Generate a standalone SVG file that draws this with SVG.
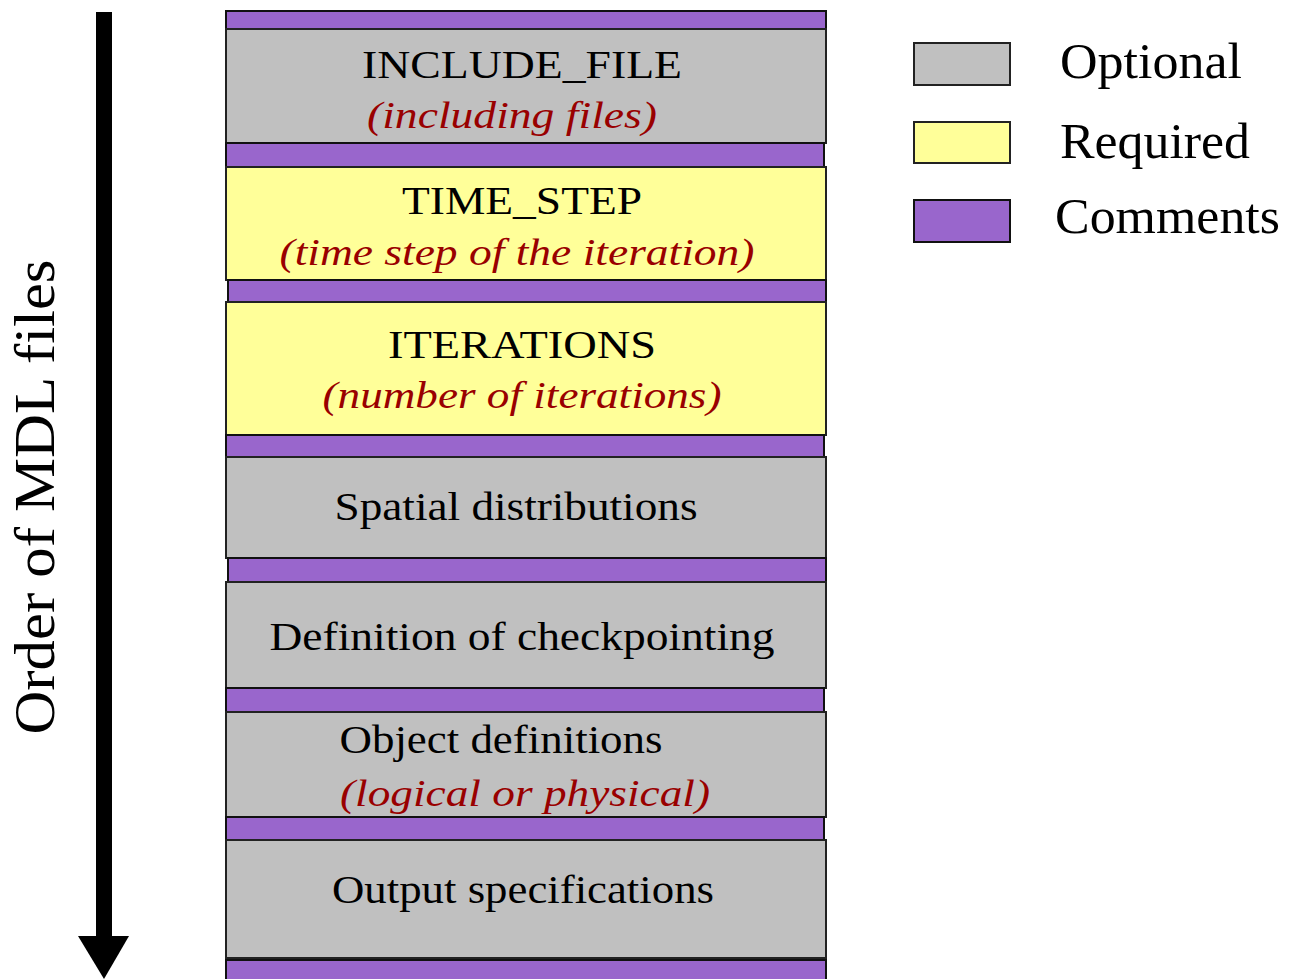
<svg xmlns="http://www.w3.org/2000/svg" width="1292" height="979" viewBox="0 0 1292 979">
<style>
.opt{fill:#C0C0C0;stroke:#222;stroke-width:2}
.req{fill:#FFFF99;stroke:#222;stroke-width:2}
.com{fill:#9966CC;stroke:#111;stroke-width:2}
.t{font-family:"Liberation Serif","Times New Roman",serif;font-size:40px;fill:#000;text-anchor:middle}
.s{font-family:"Liberation Serif","Times New Roman",serif;font-size:38px;font-style:italic;fill:#990000;text-anchor:middle}
.lg{font-family:"Liberation Serif","Times New Roman",serif;font-size:50px;fill:#000}
.ax{font-family:"Liberation Serif","Times New Roman",serif;font-size:58px;fill:#000;text-anchor:middle}
</style>
<rect width="1292" height="979" fill="#fff"/>
<g id="order-arrow">
<rect x="96" y="12" width="16" height="926" fill="#000"/>
<polygon points="78,936 129,936 104,979" fill="#000"/>
<text class="ax" transform="translate(54,497) rotate(-90)" textLength="475" lengthAdjust="spacingAndGlyphs">Order of MDL files</text>
</g>
<g id="comment-0"><rect class="com" x="226" y="11" width="600" height="18"/></g>
<g id="include-file">
<rect class="opt" x="226" y="29" width="600" height="114"/>
<text class="t" x="522" y="78" textLength="320" lengthAdjust="spacingAndGlyphs">INCLUDE_FILE</text>
<text class="s" x="512" y="128" textLength="290" lengthAdjust="spacingAndGlyphs">(including files)</text>
</g>
<g id="comment-1"><rect class="com" x="226" y="143" width="598" height="24"/></g>
<g id="time-step">
<rect class="req" x="226" y="167" width="600" height="113"/>
<text class="t" x="522" y="214" textLength="240" lengthAdjust="spacingAndGlyphs">TIME_STEP</text>
<text class="s" x="517" y="265" textLength="475" lengthAdjust="spacingAndGlyphs">(time step of the iteration)</text>
</g>
<g id="comment-2"><rect class="com" x="228" y="280" width="598" height="22"/></g>
<g id="iterations">
<rect class="req" x="226" y="302" width="600" height="133"/>
<text class="t" x="522" y="358" textLength="268" lengthAdjust="spacingAndGlyphs">ITERATIONS</text>
<text class="s" x="522" y="408" textLength="399" lengthAdjust="spacingAndGlyphs">(number of iterations)</text>
</g>
<g id="comment-3"><rect class="com" x="226" y="435" width="598" height="22"/></g>
<g id="spatial-distributions">
<rect class="opt" x="226" y="457" width="600" height="101"/>
<text class="t" x="516" y="520" textLength="363" lengthAdjust="spacingAndGlyphs">Spatial distributions</text>
</g>
<g id="comment-4"><rect class="com" x="228" y="558" width="598" height="24"/></g>
<g id="checkpointing">
<rect class="opt" x="226" y="582" width="600" height="106"/>
<text class="t" x="522" y="650" textLength="505" lengthAdjust="spacingAndGlyphs">Definition of checkpointing</text>
</g>
<g id="comment-5"><rect class="com" x="226" y="688" width="598" height="24"/></g>
<g id="object-definitions">
<rect class="opt" x="226" y="712" width="600" height="105"/>
<text class="t" x="501" y="753" textLength="323" lengthAdjust="spacingAndGlyphs">Object definitions</text>
<text class="s" x="525" y="806" textLength="370" lengthAdjust="spacingAndGlyphs">(logical or physical)</text>
</g>
<g id="comment-6"><rect class="com" x="226" y="817" width="598" height="23"/></g>
<g id="output-specifications">
<rect class="opt" x="226" y="840" width="600" height="118"/>
<text class="t" x="523" y="903" textLength="382" lengthAdjust="spacingAndGlyphs">Output specifications</text>
</g>
<g id="comment-7"><rect class="com" x="226" y="960" width="600" height="22"/></g>
<g id="legend">
<rect class="opt" x="914" y="43" width="96" height="42"/>
<text class="lg" x="1060" y="78" textLength="182" lengthAdjust="spacingAndGlyphs">Optional</text>
<rect class="req" x="914" y="122" width="96" height="41"/>
<text class="lg" x="1060" y="158" textLength="190" lengthAdjust="spacingAndGlyphs">Required</text>
<rect class="com" x="914" y="200" width="96" height="42"/>
<text class="lg" x="1055" y="233" textLength="225" lengthAdjust="spacingAndGlyphs">Comments</text>
</g>
</svg>
